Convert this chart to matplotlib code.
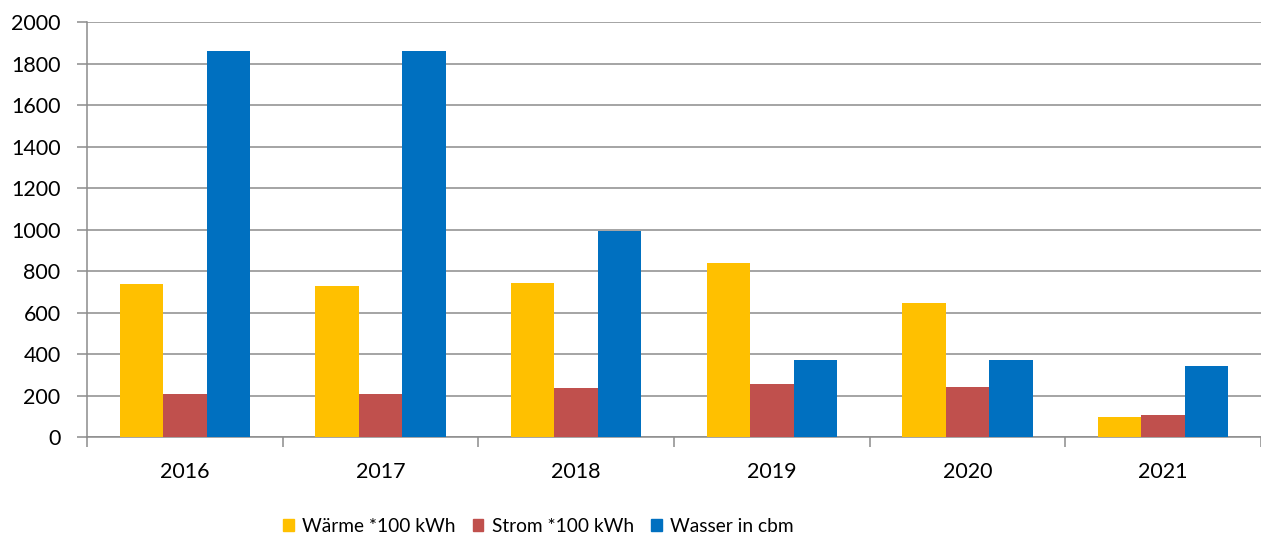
import numpy as np
import matplotlib.pyplot as plt
from matplotlib.patches import Patch

plt.rcParams['font.family'] = ['Lato', 'DejaVu Sans']

# data
years = ['2016', '2017', '2018', '2019', '2020', '2021']
waerme = [737, 728, 742, 838, 646, 98]
strom = [206, 207, 235, 255, 241, 108]
wasser = [1860, 1860, 993, 370, 370, 341]

labels = ['Wärme *100 kWh', 'Strom *100 kWh', 'Wasser in cbm']
colors = ['#FFC000', '#C0504D', '#0070C0']
series = [waerme, strom, wasser]

fig = plt.figure(figsize=(12.61, 5.39), dpi=100)
ax = fig.add_axes([0.069, 0.189, 0.931, 0.770])

x = np.arange(len(years))
w = 0.222
for i, (vals, col) in enumerate(zip(series, colors)):
    ax.bar(x + (i - 1) * w, vals, width=w, color=col, zorder=3)

ax.set_xlim(-0.5, len(years) - 0.5)
ax.set_ylim(0, 2000)
ax.set_yticks(np.arange(0, 2001, 200))
ax.yaxis.grid(True, color='#8c8c8c', linewidth=1.1, zorder=0)

ax.set_xticks(x)
ax.set_xticklabels(years)
ax.set_xticks(np.arange(-0.5, len(years), 1), minor=True)
ax.tick_params(axis='x', which='major', length=0, pad=18, labelsize=15.5)
ax.tick_params(axis='x', which='minor', length=7, width=1.1, color='#8c8c8c')
ax.tick_params(axis='y', length=7, width=1.1, color='#8c8c8c', pad=12, labelsize=15.5)

for s in ['top', 'right']:
    ax.spines[s].set_visible(False)
for s in ['left', 'bottom']:
    ax.spines[s].set_color('#8c8c8c')
    ax.spines[s].set_linewidth(1.1)

handles = [Patch(color=c, label=l) for c, l in zip(colors, labels)]
fig.legend(handles=handles, loc='center', bbox_to_anchor=(0.427, 0.024),
           ncol=3, frameon=False, fontsize=13.8, handlelength=0.55,
           handleheight=0.55, handletextpad=0.43, columnspacing=0.9,
           borderpad=0)

fig.savefig('out.png', dpi=100)
